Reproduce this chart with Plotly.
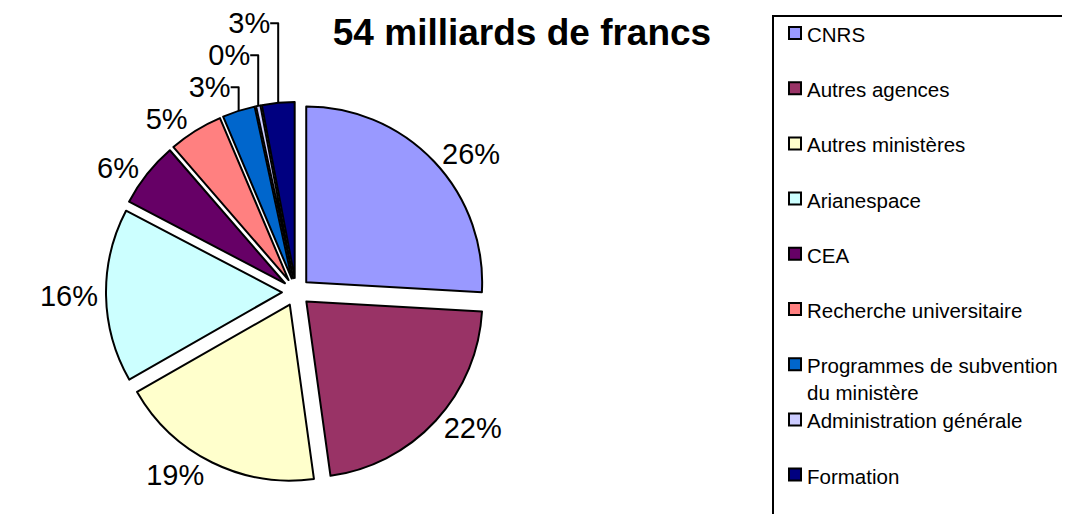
import plotly.graph_objects as go

categories = ["CNRS", "Autres agences", "Autres ministères", "Arianespace", "CEA",
              "Recherche universitaire", "Programmes de subvention<br>du ministère",
              "Administration générale", "Formation"]
values = [26, 22, 19, 16, 6, 5, 3, 0.4, 3]
colors = ["#9999FF", "#993366", "#FFFFCC", "#CCFFFF", "#660066",
          "#FF8080", "#0066CC", "#CCCCFF", "#000080"]
title_text = "54 milliards de francs"

W, H = 1070, 514
OFF = 8  # page body margin shifts the figure by this many pixels


def fx(px):
    return (px - OFF) / W


def fy(py):
    return 1 - (py - OFF) / H


cx, cy, R = 296, 292, 190
FONT = "Arial, Liberation Sans"

fig = go.Figure(go.Pie(
    labels=categories,
    values=values,
    sort=False,
    direction="clockwise",
    rotation=0,
    pull=[0.08] * len(values),
    marker=dict(colors=colors, line=dict(color="black", width=2)),
    texttemplate="%{percent:.0%}",
    textposition="outside",
    textfont=dict(family=FONT, size=29, color="black"),
    domain=dict(x=[fx(cx - R), fx(cx + R)], y=[fy(cy + R), fy(cy - R)]),
    showlegend=False,
    automargin=False,
    hoverinfo="label+percent",
))

# Legend drawn as a bordered box with colour swatches and labels
shapes = [dict(type="rect", xref="paper", yref="paper",
               x0=fx(773), x1=fx(1095), y0=fy(540), y1=fy(16),
               line=dict(color="black", width=2), fillcolor="white", layer="below")]
annotations = []
for i, (lab, col) in enumerate(zip(categories, colors)):
    yc = 33 + 55.2 * i
    shapes.append(dict(type="rect", xref="paper", yref="paper",
                       x0=fx(789), x1=fx(801), y0=fy(yc + 6), y1=fy(yc - 6),
                       line=dict(color="black", width=2), fillcolor=col))
    annotations.append(dict(text=lab, xref="paper", yref="paper", x=fx(805),
                            y=fy(yc - 12), xanchor="left", yanchor="top",
                            align="left", showarrow=False,
                            font=dict(family=FONT, size=20.5, color="black")))

fig.update_layout(
    width=W, height=H,
    margin=dict(l=0, r=0, t=0, b=0, pad=0, autoexpand=False),
    paper_bgcolor="white",
    plot_bgcolor="white",
    font=dict(family=FONT, color="black"),
    title=dict(text="<b>" + title_text + "</b>", x=fx(522), xanchor="center",
               y=fy(32), yanchor="middle", automargin=False,
               font=dict(size=37, family=FONT, color="black")),
    shapes=shapes,
    annotations=annotations,
)

fig.write_html("out.html")
